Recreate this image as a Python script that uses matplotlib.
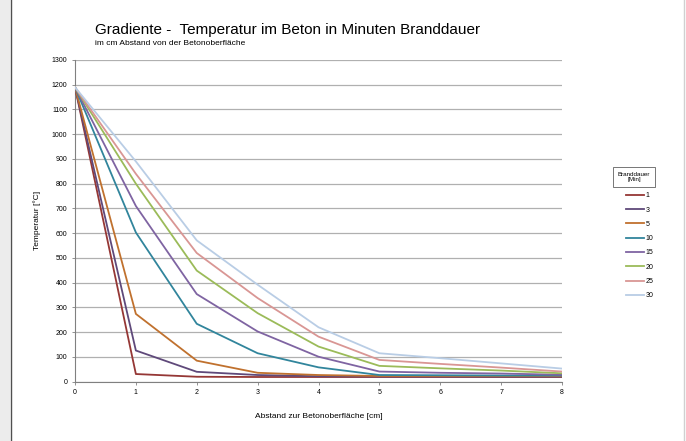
import matplotlib
matplotlib.use('Agg')
import matplotlib.pyplot as plt
from matplotlib.patches import Rectangle
from matplotlib.lines import Line2D

plt.rcParams['font.family'] = ['Liberation Sans', 'DejaVu Sans']

# Abstand zur Betonoberfläche [cm]
abstand = [0, 1, 2, 3, 4, 5, 6, 7, 8]

# Branddauer [Min] und Temperaturen [°C]
branddauer = ['1', '3', '5', '10', '15', '20', '25', '30']
t_1 = [1190, 31, 20, 19, 19, 19, 19, 19, 19]
t_3 = [1190, 126, 40, 27, 22, 21, 21, 21, 21]
t_5 = [1190, 274, 85, 36, 27, 23, 23, 23, 23]
t_10 = [1190, 603, 234, 115, 58, 27, 26, 25, 25]
t_15 = [1190, 710, 354, 203, 101, 41, 36, 33, 28]
t_20 = [1190, 800, 449, 277, 142, 64, 54, 45, 34]
t_25 = [1190, 840, 520, 338, 182, 88, 72, 57, 41]
t_30 = [1190, 890, 571, 392, 220, 115, 95, 74, 53]
reihen = [t_1, t_3, t_5, t_10, t_15, t_20, t_25, t_30]

farben = ['#953735', '#5f497a', '#c0712e', '#31859c',
          '#7f64a2', '#9bbb59', '#d99694', '#b9cde5']

fig = plt.figure(figsize=(6.86, 4.41), dpi=100)

# Seitenrahmen
fig.patches.append(Rectangle((0, 0), 10 / 686, 1, transform=fig.transFigure,
                             facecolor='#ececec', edgecolor='none', zorder=0))
fig.lines.append(Line2D([10.5 / 686, 10.5 / 686], [0, 1], transform=fig.transFigure,
                        color='#505050', lw=1.0))
fig.lines.append(Line2D([684 / 686, 684 / 686], [0, 1], transform=fig.transFigure,
                        color='#d0d0d0', lw=1.0))

ax = fig.add_axes([75 / 686, 1 - 381.7 / 441, (562 - 75) / 686, (381.7 - 60) / 441])

handles = []
for werte, farbe, name in zip(reihen, farben, branddauer):
    h, = ax.plot(abstand, werte, color=farbe, lw=1.3, label=name, zorder=3)
    handles.append(h)

ax.set_xlim(0, 8)
ax.set_ylim(0, 1300)
ax.set_xticks(range(0, 9))
ax.set_yticks(range(0, 1301, 100))
ax.tick_params(labelsize=5, length=2.5, width=0.6, color='#808080', pad=3)
ax.grid(axis='y', color='#b0b0b0', lw=0.9)
ax.set_axisbelow(True)
for s in ['top', 'right']:
    ax.spines[s].set_visible(False)
for s in ['left', 'bottom']:
    ax.spines[s].set_color('#808080')
    ax.spines[s].set_linewidth(0.8)

ax.set_xlabel('Abstand zur Betonoberfläche [cm]', fontsize=6, labelpad=12)
ax.set_ylabel('Temperatur [°C]', fontsize=6, labelpad=8)

fig.text(95 / 686, 1 - 30 / 441, 'Gradiente -  Temperatur im Beton in Minuten Branddauer',
         fontsize=11, va='center', ha='left')
fig.text(95 / 686, 1 - 43.5 / 441, 'im cm Abstand von der Betonoberfläche',
         fontsize=6, va='center', ha='left')

# Legende
fig.text(634 / 686, 1 - 177 / 441, 'Branddauer\n[Min]', fontsize=4.5, ha='center',
         va='center', linespacing=1.1,
         bbox=dict(boxstyle='square,pad=0.7', facecolor='white', edgecolor='#606060', lw=0.6))
fig.legend(handles=handles, loc='upper left', bbox_to_anchor=(620 / 686, 1 - 186 / 441),
           frameon=False, fontsize=5, handlelength=2.6, handletextpad=0.2,
           labelspacing=1.05)

fig.savefig('out.png', dpi=100)
